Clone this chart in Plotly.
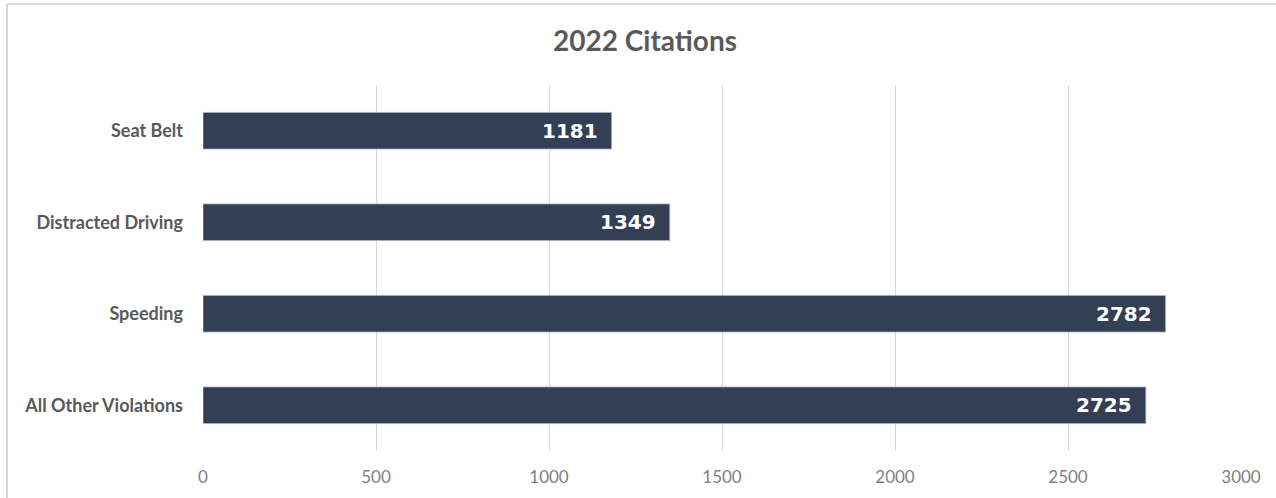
import plotly.graph_objects as go

categories = ["Seat Belt", "Distracted Driving", "Speeding", "All Other Violations"]
citations = [1181, 1349, 2782, 2725]
x_ticks = [0, 500, 1000, 1500, 2000, 2500, 3000]

W, H = 1276, 498
L, R, T, B = 203, 35, 85, 47
pw, ph = W - L - R, H - T - B

fig = go.Figure()
fig.add_trace(go.Bar(
    x=citations, y=categories, orientation="h",
    marker=dict(color="#323f55", line=dict(color="#aab2bf", width=0.8)),
    hoverinfo="x+y",
))

for c, v in zip(categories, citations):
    fig.add_annotation(x=v, y=c, text=f"<b>{v}</b>", showarrow=False,
                       xanchor="right", xshift=-12,
                       font=dict(family="DejaVu Sans", size=20, color="white"))

px2x = lambda p: (p - L) / pw
py2y = lambda p: (H - B - p) / ph
fig.add_shape(type="line", xref="paper", yref="paper",
              x0=px2x(7), x1=px2x(W + 5), y0=py2y(4), y1=py2y(4),
              line=dict(color="#d9d9d9", width=2))
fig.add_shape(type="line", xref="paper", yref="paper",
              x0=px2x(7), x1=px2x(7), y0=py2y(4), y1=py2y(H + 5),
              line=dict(color="#d9d9d9", width=2))

fig.update_layout(
    width=W, height=H,
    margin=dict(l=L, r=R, t=T, b=B, pad=0),
    paper_bgcolor="white", plot_bgcolor="white",
    bargap=0.6,
    showlegend=False,
    title=dict(text="<b>2022 Citations</b>", x=645 / W, xanchor="center",
               y=1 - 41 / H, yanchor="middle", yref="container",
               font=dict(family="Lato", size=28, color="#595959")),
    xaxis=dict(range=[0, 3000], tickvals=x_ticks, showgrid=True,
               gridcolor="#d9d9d9", gridwidth=1, zeroline=False,
               showline=False, ticks="", ticklabelstandoff=14,
               tickfont=dict(family="Lato", size=17, color="#7f7f7f")),
    yaxis=dict(autorange="reversed", categoryorder="array", categoryarray=categories,
               showgrid=False, zeroline=False, showline=False, ticks="",
               ticklabelstandoff=19,
               tickfont=dict(family="Lato", size=18, color="#595959", weight="bold")),
)

fig.write_html("out.html", config={"displayModeBar": False},
               post_script="document.body.style.margin='0';")
